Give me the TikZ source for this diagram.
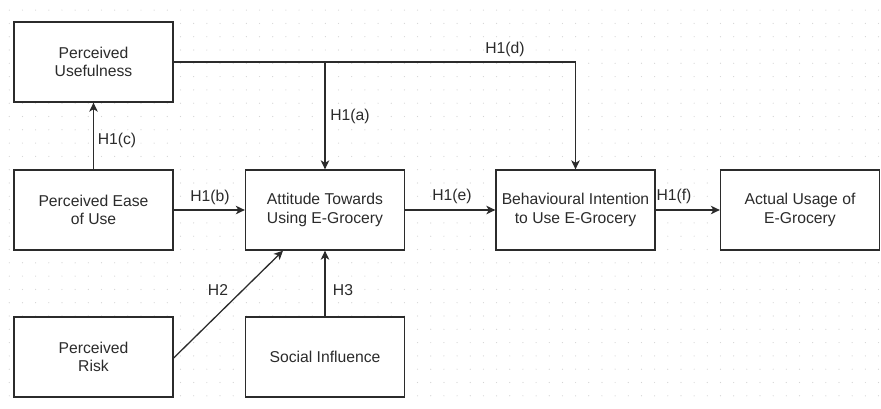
\documentclass[tikz,border=0pt]{standalone}
\usepackage{fontspec}
\setmainfont{Liberation Sans}
\usetikzlibrary{arrows.meta,calc}
\definecolor{ink}{HTML}{2B2B2B}
\definecolor{griddot}{HTML}{D4D4D4}
\tikzset{
  construct/.style={draw=ink, line width=1.3pt, fill=white, minimum width=159pt,
    minimum height=80pt, align=center, text=ink,
    font=\fontsize{15.7}{18.3}\selectfont, inner sep=0pt},
  link/.style={draw=ink, line width=1.3pt,
    -{Stealth[length=9pt, width=8.5pt, inset=2.5pt]}},
  hyp/.style={text=ink, font=\fontsize{15.7}{18.3}\selectfont, inner sep=0pt}
}
\begin{document}
\begin{tikzpicture}[x=1pt, y=-1pt]
  \useasboundingbox (0,0) rectangle (881,408);
  \fill[white] (0,0) rectangle (881,408);
  % dotted background grid
  \foreach \i in {0,...,66} {
    \foreach \j in {0,...,30} {
      \fill[griddot] ({9.3+13.17*\i},{-3.2+13.3*\j}) circle (0.6pt);
    }
  }

  % constructs
  \node[construct] (pu)   at (93.5,62)  {Perceived\\Usefulness};
  \node[construct] (peou) at (93.5,210) {Perceived Ease\\of Use};
  \node[construct] (atu)  at (325,210)  {Attitude Towards\\Using E-Grocery};
  \node[construct] (bi)   at (575.5,210){Behavioural Intention\\to Use E-Grocery};
  \node[construct] (au)   at (800,210)  {Actual Usage of\\E-Grocery};
  \node[construct] (pr)   at (93.5,357) {Perceived\\Risk};
  \node[construct] (si)   at (325,357)  {Social Influence};

  % hypothesised paths
  \coordinate (split) at (atu.north |- pu.east);
  \draw[link] (pu.east) -| (bi.north);
  \draw[link] (split) -- (atu.north);
  \draw[link] (peou.north) -- (pu.south);
  \draw[link] (peou.east) -- (atu.west);
  \draw[link] ([yshift=-1pt]pr.east) -- ([xshift=-42pt]atu.south);
  \draw[link] (si.north) -- (atu.south);
  \draw[link] (atu.east) -- (bi.west);
  \draw[link] (bi.east) -- (au.west);

  % path labels
  \node[hyp] (ld) at (505,49)  {H1(d)};
  \node[hyp] (la) at (350,116) {H1(a)};
  \node[hyp] (lc) at (117,140) {H1(c)};
  \node[hyp] (lb) at (210,197) {H1(b)};
  \node[hyp] (le) at (452,196) {H1(e)};
  \node[hyp] (lf) at (674,196) {H1(f)};
  \node[hyp] (l2) at (218,290) {H2};
  \node[hyp] (l3) at (343,290) {H3};
\end{tikzpicture}
\end{document}
